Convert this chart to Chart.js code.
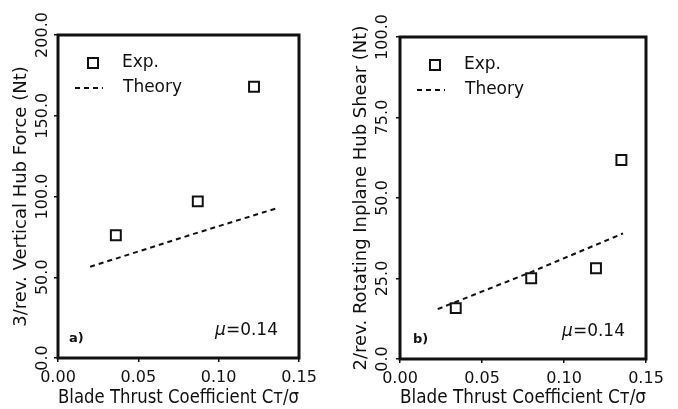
<!DOCTYPE html>
<html>
<head>
<meta charset="utf-8">
<script src="https://cdn.jsdelivr.net/npm/chart.js@4/dist/chart.umd.min.js"></script>
<style>
body { margin: 0; background: #fff; }
.panel { position: absolute; top: 0; }
</style>
</head>
<body>
<div class="panel" style="left:0"><canvas id="chartA" width="340" height="409"></canvas></div>
<div class="panel" style="left:340px"><canvas id="chartB" width="338" height="409"></canvas></div>
<script>
// values
const xTicks = [0, 0.05, 0.10, 0.15];
const forceTicks = [0, 50, 100, 150, 200];
const shearTicks = [0, 25, 50, 75, 100];

const forceExpX = [0.036, 0.087, 0.122];
const forceExpY = [76, 97, 168];
const forceTheoryX = [0.020, 0.085, 0.137];
const forceTheoryY = [56.5, 77, 93];

const shearExpX = [0.034, 0.080, 0.1195, 0.135];
const shearExpY = [15.8, 25.1, 28.2, 61.8];
const shearTheoryX = [0.023, 0.080, 0.136];
const shearTheoryY = [15.5, 27, 39];

const ink = '#111';
const fontFamily = '"DejaVu Sans", sans-serif';

function toPoints(xs, ys) {
    return xs.map((x, i) => ({ x: x, y: ys[i] }));
}

// frame, legend and the little notes inside each panel
const panelNotes = {
    id: 'panelNotes',
    afterDatasetsDraw(chart, args, opts) {
        const ctx = chart.ctx;
        const a = chart.chartArea;
        ctx.save();
        ctx.strokeStyle = ink;
        ctx.fillStyle = ink;
        ctx.lineWidth = 3;
        ctx.strokeRect(a.left, a.top, a.right - a.left, a.bottom - a.top);

        // legend
        ctx.lineWidth = 2;
        ctx.strokeRect(a.left + 30, a.top + 23, 10, 10);
        ctx.setLineDash([5, 4]);
        ctx.beginPath();
        ctx.moveTo(a.left + 17, a.top + 53);
        ctx.lineTo(a.left + 45, a.top + 53);
        ctx.stroke();
        ctx.setLineDash([]);
        ctx.font = '17px ' + fontFamily;
        ctx.textBaseline = 'middle';
        ctx.textAlign = 'left';
        ctx.fillText('Exp.', a.left + 64, a.top + 28);
        ctx.fillText('Theory', a.left + 65, a.top + 53);

        // panel tag
        ctx.font = 'bold 13px ' + fontFamily;
        ctx.fillText(opts.tag, a.left + opts.tagX, a.bottom - 19);

        // advance ratio
        ctx.font = '17px ' + fontFamily;
        ctx.textAlign = 'right';
        const rx = a.right - 21;
        const ry = a.bottom - 27;
        ctx.fillText('=0.14', rx, ry);
        const w = ctx.measureText('=0.14').width;
        ctx.font = 'italic 17px ' + fontFamily;
        ctx.fillText('\u03bc', rx - w, ry);
        ctx.restore();
    }
};

function makeChart(id, opts) {
    const ctx = document.getElementById(id).getContext('2d');
    return new Chart(ctx, {
        type: 'scatter',
        data: {
            datasets: [{
                label: 'Exp.',
                data: toPoints(opts.expX, opts.expY),
                showLine: false,
                pointStyle: 'rect',
                pointRadius: 7,
                pointBorderWidth: 2,
                borderColor: ink,
                backgroundColor: '#fff'
            }, {
                label: 'Theory',
                data: toPoints(opts.theoryX, opts.theoryY),
                showLine: true,
                pointRadius: 0,
                borderColor: ink,
                borderWidth: 2,
                borderDash: [5, 4]
            }]
        },
        options: {
            responsive: false,
            animation: false,
            layout: { padding: opts.padding },
            plugins: {
                legend: { display: false },
                tooltip: { enabled: false },
                panelNotes: { tag: opts.tag, tagX: opts.tagX }
            },
            scales: {
                x: {
                    type: 'linear',
                    min: 0,
                    max: 0.15,
                    afterBuildTicks: scale => { scale.ticks = xTicks.map(v => ({ value: v })); },
                    afterFit: scale => { scale.height = opts.xHeight; },
                    grid: { drawOnChartArea: false, color: ink, lineWidth: 1.5, tickLength: 4 },
                    border: { display: false },
                    ticks: {
                        color: ink,
                        padding: 6,
                        font: { family: fontFamily, size: 16 },
                        callback: v => v.toFixed(2)
                    },
                    title: {
                        display: true,
                        text: 'Blade Thrust Coefficient C\u1d1b/\u03c3',
                        color: ink,
                        font: { family: fontFamily, size: 19 },
                        padding: { top: 0, bottom: 0 }
                    }
                },
                y: {
                    type: 'linear',
                    min: 0,
                    max: opts.yTicks[opts.yTicks.length - 1],
                    afterBuildTicks: scale => { scale.ticks = opts.yTicks.map(v => ({ value: v })); },
                    afterFit: scale => { scale.width = opts.yWidth; },
                    grid: { drawOnChartArea: false, color: ink, lineWidth: 1.5, tickLength: 4 },
                    border: { display: false },
                    ticks: {
                        color: ink,
                        minRotation: 90,
                        maxRotation: 90,
                        crossAlign: 'center',
                        padding: opts.yTickPad,
                        font: { family: fontFamily, size: 16 },
                        callback: v => v.toFixed(1)
                    },
                    title: {
                        display: true,
                        text: opts.yTitle,
                        color: ink,
                        font: { family: fontFamily, size: 18 },
                        padding: { top: 11, bottom: 0 }
                    }
                }
            }
        },
        plugins: [panelNotes]
    });
}

makeChart('chartA', {
    expX: forceExpX, expY: forceExpY,
    theoryX: forceTheoryX, theoryY: forceTheoryY,
    yTicks: forceTicks,
    yTitle: '3/rev. Vertical Hub Force (Nt)',
    padding: { top: 35, right: 41, left: 0, bottom: 0 },
    yWidth: 58, xHeight: 51, yTickPad: -11.5,
    tag: 'a)', tagX: 11
});

makeChart('chartB', {
    expX: shearExpX, expY: shearExpY,
    theoryX: shearTheoryX, theoryY: shearTheoryY,
    yTicks: shearTicks,
    yTitle: '2/rev. Rotating Inplane Hub Shear (Nt)',
    padding: { top: 37, right: 32, left: 0, bottom: 0 },
    yWidth: 60, xHeight: 50, yTickPad: -10,
    tag: 'b)', tagX: 13
});
</script>
</body>
</html>
